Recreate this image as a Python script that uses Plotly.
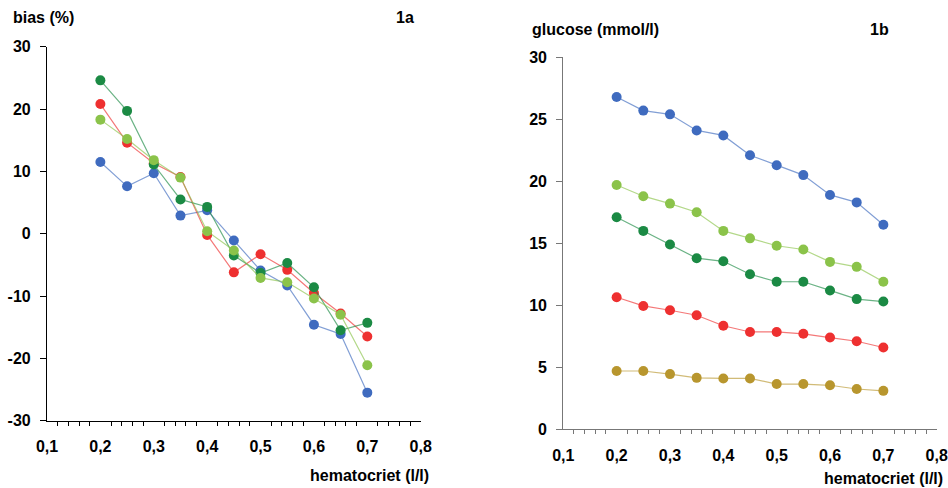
import plotly.graph_objects as go

hct = [0.2, 0.25, 0.3, 0.35, 0.4, 0.45, 0.5, 0.55, 0.6, 0.65, 0.7]

# Figure 1a: bias (%)
bias_blue = [11.5, 7.6, 9.7, 2.9, 3.75, -1.1, -5.9, -8.3, -14.6, -16.1, -25.5]
bias_red = [20.8, 14.6, 11.3, 9.1, -0.2, -6.2, -3.3, -5.8, -9.5, -12.8, -16.5]
bias_dgreen = [24.6, 19.7, 11.1, 5.5, 4.3, -3.5, -6.3, -4.7, -8.6, -15.5, -14.3]
bias_lgreen = [18.3, 15.2, 11.8, 9.0, 0.4, -2.7, -7.1, -7.8, -10.4, -13.0, -21.1]
bias_ticks = [-30, -20, -10, 0, 10, 20, 30]
bias_ticktext = ["-30", "-20", "-10", "0", "10", "20", "30"]

# Figure 1b: glucose (mmol/l)
glu_blue = [26.8, 25.7, 25.4, 24.1, 23.7, 22.1, 21.3, 20.5, 18.9, 18.3, 16.5]
glu_lgreen = [19.7, 18.8, 18.2, 17.5, 16.0, 15.4, 14.8, 14.5, 13.5, 13.1, 11.9]
glu_dgreen = [17.1, 16.0, 14.9, 13.8, 13.55, 12.5, 11.9, 11.9, 11.2, 10.5, 10.3]
glu_red = [10.65, 9.95, 9.6, 9.2, 8.35, 7.85, 7.85, 7.7, 7.4, 7.1, 6.6]
glu_gold = [4.7, 4.7, 4.45, 4.15, 4.1, 4.1, 3.65, 3.65, 3.55, 3.25, 3.1]

BLUE = "#3f6bbf"
RED = "#ee3030"
DGREEN = "#1b8a44"
LGREEN = "#8bc34a"
GOLD = "#b8962e"


def rgba(hexc, a):
    h = hexc.lstrip("#")
    r, g, b = int(h[0:2], 16), int(h[2:4], 16), int(h[4:6], 16)
    return f"rgba({r},{g},{b},{a})"


fig = go.Figure()


def add(y, color, xa, ya):
    fig.add_trace(go.Scatter(
        x=hct, y=y, mode="lines+markers", xaxis=xa, yaxis=ya,
        line=dict(color=rgba(color, 0.65), width=1.2),
        marker=dict(color=color, size=10, line=dict(width=0)),
        showlegend=False, hoverinfo="skip"))


for y, c in [(bias_blue, BLUE), (bias_red, RED), (bias_dgreen, DGREEN), (bias_lgreen, LGREEN)]:
    add(y, c, "x", "y")
for y, c in [(glu_gold, GOLD), (glu_red, RED), (glu_dgreen, DGREEN), (glu_lgreen, LGREEN), (glu_blue, BLUE)]:
    add(y, c, "x2", "y2")

W, H = 948, 488
FONT = dict(family="Liberation Sans, Arial, sans-serif", size=16, color="#000", weight="bold")


def px(v):
    return v / W


def py(v):
    return 1 - v / H


def xaxis(dom, linecolor):
    return dict(domain=dom, range=[0.1, 0.8], dtick=0.1, tick0=0.1, tickformat=".1f",
                showgrid=False, zeroline=False, showline=True, linecolor=linecolor, linewidth=1.2,
                ticks="outside", ticklen=0, tickcolor=linecolor, ticklabelstandoff=11,
                tickfont=FONT,
                minor=dict(dtick=0.02, tick0=0.1, ticks="outside", ticklen=4, tickcolor=linecolor,
                           showgrid=False))


def yaxis(dom, rng, linecolor, anchor, **kw):
    return dict(domain=dom, range=rng, showgrid=False, zeroline=False, showline=True,
                linecolor=linecolor, linewidth=1.2, ticks="outside", ticklen=6, tickcolor=linecolor,
                ticklabelstandoff=6, tickfont=FONT, anchor=anchor, **kw)


fig.update_layout(
    width=W, height=H,
    margin=dict(l=0, r=0, t=0, b=0, autoexpand=False),
    paper_bgcolor="white", plot_bgcolor="white",
    separators=",.",
    xaxis=dict(**xaxis([px(47), px(420.7)], "#000"), anchor="y"),
    yaxis=yaxis([py(420.7), py(46.7)], [-30, 30], "#000", "x",
                tickmode="array", tickvals=bias_ticks, ticktext=bias_ticktext),
    xaxis2=dict(**xaxis([px(563.3), px(936.7)], "#777"), anchor="y2"),
    yaxis2=yaxis([py(429.3), py(57.3)], [0, 30], "#777", "x2", dtick=5),
)


def label(text, x, y, xanchor):
    fig.add_annotation(text=text, x=px(x), y=py(y), xref="paper", yref="paper",
                       xanchor=xanchor, yanchor="middle", showarrow=False, font=FONT)


label("bias (%)", 11, 18, "left")
label("1a", 405, 18, "center")
label("hematocriet (l/l)", 431, 475, "right")
label("glucose (mmol/l)", 530, 29, "left")
label("1b", 879, 29, "center")
label("hematocriet (l/l)", 945, 478, "right")

fig.write_html(
    "out.html",
    config={"displayModeBar": False},
    post_script="document.body.style.margin='0';document.body.style.overflow='hidden';",
)
